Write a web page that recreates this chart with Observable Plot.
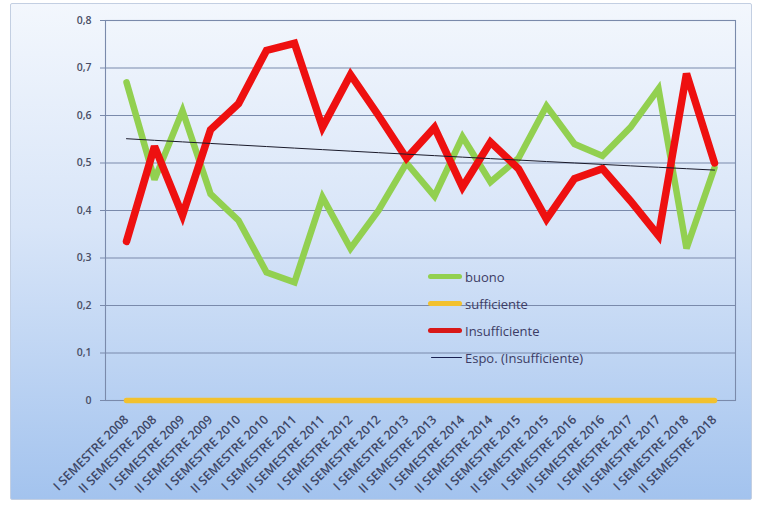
<!DOCTYPE html>
<html>
<head>
<meta charset="utf-8">
<script src="https://cdn.jsdelivr.net/npm/d3@7"></script>
<script src="https://cdn.jsdelivr.net/npm/@observablehq/plot@0.6"></script>
<style>
  html, body { margin: 0; padding: 0; background: #ffffff; }
  #wrap { position: relative; width: 761px; height: 508px; overflow: hidden; background: #ffffff; }
  #frame { position: absolute; left: 10px; top: 3px; width: 742px; height: 497px;
           background: linear-gradient(to bottom, #f3f7fd 0%, #d8e5f8 45%, #a3c3ee 100%);
           border: 1px solid #c3cfe2; border-radius: 2px; box-sizing: border-box; }
  #chart { position: absolute; left: 0; top: 0; }
  #legend { position: absolute; left: 428px; top: 263px; font-family: "Open Sans", sans-serif;
            font-size: 13px; font-weight: 500; color: #3c3c64; }
  .item { position: relative; height: 27px; display: flex; align-items: center; }
  .sw { margin-right: 3px; border-radius: 3px; }
</style>
</head>
<body>
<div id="wrap">
  <div id="frame"></div>
  <div id="chart"></div>
  <div id="legend"></div>
</div>
<script>
const categories = [
  "I SEMESTRE 2008","II SEMESTRE 2008","I SEMESTRE 2009","II SEMESTRE 2009",
  "I SEMESTRE 2010","II SEMESTRE 2010","I SEMESTRE 2011","II SEMESTRE 2011",
  "I SEMESTRE 2012","II SEMESTRE 2012","I SEMESTRE 2013","II SEMESTRE 2013",
  "I SEMESTRE 2014","II SEMESTRE 2014","I SEMESTRE 2015","II SEMESTRE 2015",
  "I SEMESTRE 2016","II SEMESTRE 2016","I SEMESTRE 2017","II SEMESTRE 2017",
  "I SEMESTRE 2018","II SEMESTRE 2018"
];
const buono = [0.67,0.465,0.61,0.435,0.379,0.27,0.249,0.428,0.32,0.40,0.50,0.43,
               0.555,0.46,0.51,0.62,0.54,0.515,0.575,0.656,0.32,0.49];
const sufficiente = [0,0,0,0,0,0,0,0,0,0,0,0,0,0,0,0,0,0,0,0,0,0];
const insufficiente = [0.335,0.535,0.39,0.57,0.625,0.737,0.752,0.575,0.686,0.60,0.51,0.575,
                       0.449,0.544,0.488,0.382,0.467,0.488,0.42,0.347,0.688,0.50];
const yTicks = [0,0.1,0.2,0.3,0.4,0.5,0.6,0.7,0.8];

const seriesColors = {buono: "#92d050", sufficiente: "#f2c12e", insufficiente: "#ee1010"};
const legendLabels = ["buono","sufficiente","Insufficiente","Espo. (Insufficiente)"];

// exponential trend (Excel "Espo.") fitted on insufficiente, x = 1..n
const n = insufficiente.length;
const xs = d3.range(1, n + 1);
const ly = insufficiente.map(Math.log);
const mx = d3.mean(xs), my = d3.mean(ly);
const b = d3.sum(xs, (x, i) => (x - mx) * (ly[i] - my)) / d3.sum(xs, x => (x - mx) ** 2);
const a = my - b * mx;
const trend = categories.map((c, i) => ({cat: c, v: Math.exp(a + b * (i + 1))}));

const rows = (name, arr) => categories.map((c, i) => ({cat: c, v: arr[i], s: name}));
const fmt = d => d === 0 ? "0" : d.toFixed(1).replace(".", ",");

const plot = Plot.plot({
  width: 761, height: 508,
  marginLeft: 105, marginRight: 26, marginTop: 20, marginBottom: 108,
  style: {background: "transparent", fontFamily: "'Open Sans', sans-serif"},
  x: {type: "point", domain: categories, padding: 0.5, label: null},
  y: {domain: [0, 0.8], label: null},
  marks: [
    Plot.ruleY(yTicks, {stroke: "#7a8aab", strokeWidth: 1.1}),
    Plot.axisY({ticks: yTicks, tickFormat: fmt, tickSize: 5, tickPadding: 9, stroke: "#7a8aab",
                fontSize: 10.5, fontWeight: 600, fill: "#4a4f66", label: null}),
    Plot.axisX({tickRotate: -45, tickSize: 0, tickPadding: 17, fontSize: 12.5, fontWeight: 600,
                fill: "#3e4766", label: null, style: {letterSpacing: "0.3px"}}),
    Plot.frame({stroke: "#7a8aab", strokeWidth: 1.1}),
    Plot.line(rows("buono", buono), {x: "cat", y: "v", stroke: seriesColors.buono, strokeWidth: 6.5,
              strokeLinejoin: "miter", strokeMiterlimit: 3}),
    Plot.line(rows("sufficiente", sufficiente), {x: "cat", y: "v", stroke: seriesColors.sufficiente,
              strokeWidth: 5.5, strokeLinecap: "round"}),
    Plot.line(rows("insufficiente", insufficiente), {x: "cat", y: "v", stroke: seriesColors.insufficiente,
              strokeWidth: 7.5, strokeLinejoin: "miter", strokeMiterlimit: 3}),
    Plot.line(trend, {x: "cat", y: "v", stroke: "#1a1a2a", strokeWidth: 1})
  ]
});
document.getElementById("chart").appendChild(plot);

// legend
const legend = d3.select("#legend");
const swatches = [
  {color: seriesColors.buono, w: 5, len: 34, ml: 0},
  {color: seriesColors.sufficiente, w: 5, len: 34, ml: 0},
  {color: "#d81818", w: 5, len: 34, ml: 0},
  {color: "#1a2050", w: 1.2, len: 31, ml: 3}
];
legendLabels.forEach((lab, i) => {
  const it = legend.append("div").attr("class", "item");
  it.append("div").attr("class", "sw")
    .style("height", swatches[i].w + "px").style("background", swatches[i].color)
    .style("margin-left", swatches[i].ml + "px").style("width", swatches[i].len + "px");
  it.append("span").text(lab);
});
</script>
</body>
</html>
